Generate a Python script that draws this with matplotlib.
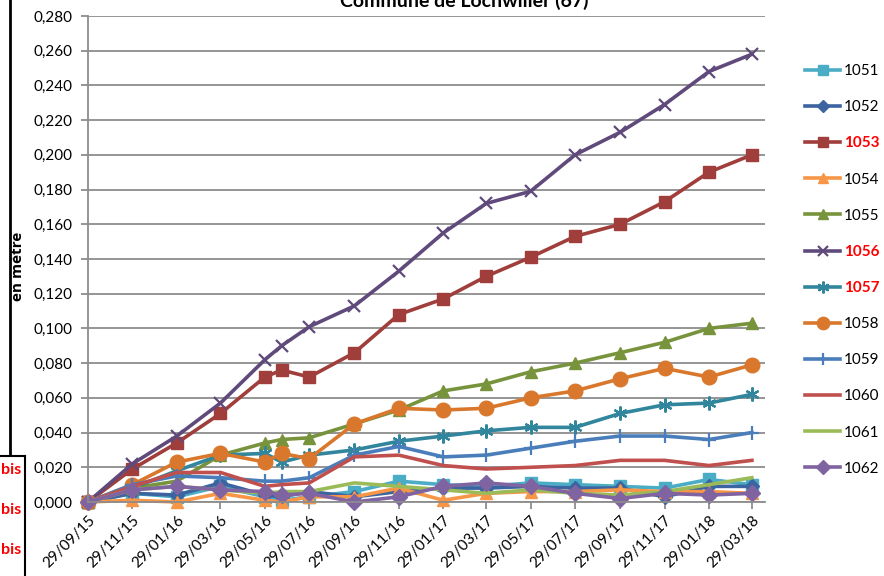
import datetime as dt
import matplotlib
matplotlib.use("Agg")
import matplotlib.pyplot as plt
import matplotlib.dates as mdates
from matplotlib.ticker import FuncFormatter, FixedLocator
from matplotlib.lines import Line2D

plt.rcParams['font.family'] = ['Lato', 'DejaVu Sans']

# measurement dates
dates = ["2015-09-29", "2015-11-29", "2016-01-29", "2016-03-29", "2016-05-29",
         "2016-06-21", "2016-07-29", "2016-09-29", "2016-11-29", "2017-01-29",
         "2017-03-29", "2017-05-29", "2017-07-29", "2017-09-29", "2017-11-29",
         "2018-01-29", "2018-03-29"]

# displacement per point (metres)
s1051 = [0, 0.005, 0.003, 0.009, 0.003, 0.001, 0.003, 0.006, 0.012, 0.010, 0.009, 0.011, 0.010, 0.009, 0.008, 0.013, 0.010]
s1052 = [0, 0.005, 0.004, 0.011, 0.004, 0.003, 0.006, 0.003, 0.006, 0.008, 0.008, 0.009, 0.008, 0.008, 0.003, 0.009, 0.009]
s1053 = [0, 0.019, 0.034, 0.051, 0.072, 0.076, 0.072, 0.086, 0.108, 0.117, 0.130, 0.141, 0.153, 0.160, 0.173, 0.190, 0.200]
s1054 = [0, 0.001, 0.000, 0.005, 0.001, 0.000, 0.003, 0.003, 0.008, 0.001, 0.005, 0.006, 0.006, 0.007, 0.006, 0.006, 0.005]
s1055 = [0, 0.008, 0.012, 0.027, 0.034, 0.036, 0.037, 0.045, 0.053, 0.064, 0.068, 0.075, 0.080, 0.086, 0.092, 0.100, 0.103]
s1056 = [0, 0.022, 0.038, 0.057, 0.082, 0.090, 0.101, 0.113, 0.133, 0.155, 0.172, 0.179, 0.200, 0.213, 0.229, 0.248, 0.258]
s1057 = [0, 0.008, 0.018, 0.027, 0.028, 0.023, 0.027, 0.030, 0.035, 0.038, 0.041, 0.043, 0.043, 0.051, 0.056, 0.057, 0.062]
s1058 = [0, 0.010, 0.023, 0.028, 0.023, 0.028, 0.025, 0.045, 0.054, 0.053, 0.054, 0.060, 0.064, 0.071, 0.077, 0.072, 0.079]
s1059 = [0, 0.010, 0.015, 0.014, 0.012, 0.012, 0.014, 0.027, 0.032, 0.026, 0.027, 0.031, 0.035, 0.038, 0.038, 0.036, 0.040]
s1060 = [0, 0.009, 0.017, 0.017, 0.009, 0.010, 0.011, 0.026, 0.027, 0.021, 0.019, 0.020, 0.021, 0.024, 0.024, 0.021, 0.024]
s1061 = [0, 0.007, 0.009, 0.007, 0.005, 0.006, 0.006, 0.011, 0.009, 0.007, 0.005, 0.007, 0.005, 0.004, 0.006, 0.010, 0.014]
s1062 = [0, 0.007, 0.009, 0.007, 0.006, 0.004, 0.005, 0.000, 0.003, 0.009, 0.011, 0.009, 0.005, 0.002, 0.005, 0.004, 0.005]

labels = ["1051", "1052", "1053", "1054", "1055", "1056",
          "1057", "1058", "1059", "1060", "1061", "1062"]
highlighted = ["1053", "1056", "1057"]

tick_labels = ["29/09/15", "29/11/15", "29/01/16", "29/03/16", "29/05/16", "29/07/16",
               "29/09/16", "29/11/16", "29/01/17", "29/03/17", "29/05/17", "29/07/17",
               "29/09/17", "29/11/17", "29/01/18", "29/03/18"]

series = [s1051, s1052, s1053, s1054, s1055, s1056, s1057, s1058, s1059, s1060, s1061, s1062]
colors = ["#4BACC6", "#3B64A0", "#A03E3B", "#F79646", "#77933C", "#604A7B",
          "#31859C", "#D9782D", "#4A7EBB", "#C0504D", "#9BBB59", "#8064A2"]
markers = ["s", "D", "s", "^", "^", "x", (6, 2, 0), "o", "+", None, None, "D"]
msizes = [9, 7, 9, 8, 8, 9, 10, 10.5, 10, 0, 0, 8]

W, H = 884, 576
fig = plt.figure(figsize=(W / 100, H / 100), dpi=100)

left, right, top, bottom = 88, 765, 16, 502
ax = fig.add_axes([left / W, 1 - bottom / H, (right - left) / W, (bottom - top) / H])

x = [mdates.date2num(dt.date.fromisoformat(d)) for d in dates]
grid_c = "#8C8C8C"

handles = []
for vals, c, m, ms, lab in zip(series, colors, markers, msizes, labels):
    mew = 1.6 if m in ("x", "+", (6, 2, 0)) else 1
    ln, = ax.plot(x, vals, color=c, lw=2.6, marker=m, ms=ms, mec=c, mfc=c,
                  mew=mew, solid_joinstyle="round", label=lab, clip_on=False)
    handles.append(ln)

x0 = mdates.date2num(dt.date(2015, 9, 29))
ax.set_xlim(x0, x0 + 930)
ax.set_ylim(0, 0.28)

tick_pos = [mdates.date2num(dt.datetime.strptime(t, "%d/%m/%y").date()) for t in tick_labels]
ax.xaxis.set_major_locator(FixedLocator(tick_pos))
ax.set_xticklabels(tick_labels, rotation=45, ha="right", va="top", rotation_mode="anchor")
ax.set_yticks([i * 0.02 for i in range(15)])
ax.yaxis.set_major_formatter(FuncFormatter(lambda v, p: f"{v:.3f}".replace(".", ",")))

ax.grid(axis="y", color=grid_c, lw=1.3)
ax.set_axisbelow(True)
for s in ("top", "right"):
    ax.spines[s].set_visible(False)
for s in ("left", "bottom"):
    ax.spines[s].set_color(grid_c)
    ax.spines[s].set_linewidth(1.3)
ax.tick_params(axis="both", colors=grid_c, width=1.3, length=5, labelsize=11,
               labelcolor="black")
ax.tick_params(axis="x", pad=3)
ax.tick_params(axis="y", pad=6)

ax.set_ylabel("en mètre", fontsize=11, fontweight="bold", family=["Open Sans", "DejaVu Sans"])
ax.yaxis.set_label_coords((25 - left) / (right - left), (bottom - 266) / (bottom - top))

fig.text(464 / W, 1 - 7 / H, "Commune de Lochwiller (67)", ha="center", va="baseline",
         fontsize=14, fontweight="bold")

leg = fig.legend(handles=handles, loc="upper left", bbox_to_anchor=(799 / W, 1 - 58 / H),
                 frameon=False, fontsize=11, handlelength=2.3, handletextpad=0.25,
                 labelspacing=1.45, markerscale=0.85, borderaxespad=0.0)
for t in leg.get_texts():
    if t.get_text() in highlighted:
        t.set_color("red")
        t.set_fontweight("bold")

# frame pieces on the left edge
fig.add_artist(Line2D([10 / W, 10 / W], [1, 1 - 455 / H], color="black", lw=2))
fig.add_artist(Line2D([0, 25 / W], [1 - 456 / H, 1 - 456 / H], color="black", lw=1.5))
fig.add_artist(Line2D([25 / W, 25 / W], [1 - 456 / H, 0], color="black", lw=1.5))
for yy in (470, 510, 550):
    fig.text(21 / W, 1 - yy / H, "bis", ha="right", va="center", color="red",
             fontsize=11.5, fontweight="bold")

fig.savefig("out.png", dpi=100)
